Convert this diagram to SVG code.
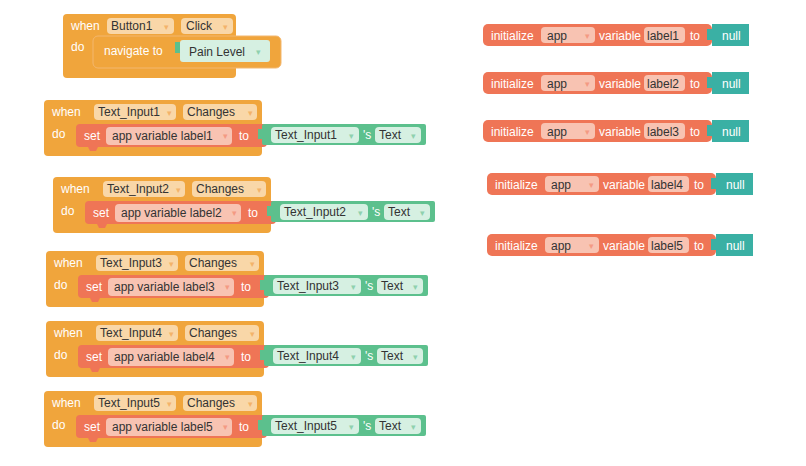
<svg xmlns="http://www.w3.org/2000/svg" width="806" height="466" viewBox="0 0 806 466">
<defs><style>
text{font-family:"Liberation Sans",Arial,sans-serif;font-size:12px}
.or{fill:#F0A53C}.sa{fill:#EF7556}.gr{fill:#5CC08D}.te{fill:#3AB0A4}
.w{fill:#fff}.d{fill:#333}
.fo{fill:#F9D7A8}.fs{fill:#F8C3B2}.fg{fill:#D6F0E2}
.ao{fill:#F3B36A;font-size:9px}.as{fill:#F49A83;font-size:9px}.ag{fill:#8FD1AE;font-size:9px}
</style>
<g id="ev">
<rect class="or" x="0" y="0" width="218" height="56" rx="4"/>
<text class="w" x="8" y="16">when</text>
<text class="w" x="8" y="38">do</text>
<rect class="sa" x="32" y="24" width="191" height="23" rx="4"/>
<path class="sa" d="M44 47h10l-2 4h-6z"/>
<text class="w" x="40" y="40">set</text>
<rect class="fs" x="62" y="27" width="126" height="18" rx="4"/>
<text class="as" x="179" y="39">▾</text>
<text class="w" x="195" y="40">to</text>
<rect class="gr" x="218" y="24" width="164" height="21" rx="2"/>
<path class="gr" d="M218 29h-4v10h4z"/>
<rect class="fg" x="227" y="27" width="88" height="16" rx="4"/>
<text class="ag" x="305" y="39">▾</text>
<text class="w" x="319" y="39">'s</text>
<rect class="fg" x="331" y="27" width="46" height="16" rx="4"/>
<text class="ag" x="367" y="39">▾</text>
<rect class="fo" x="50" y="4" width="82" height="16" rx="4"/>
<text class="ao" x="123" y="16">▾</text>
<rect class="fo" x="139" y="4" width="74" height="16" rx="4"/>
<text class="ao" x="204" y="16">▾</text>
</g>
<g id="init">
<rect class="sa" x="0" y="0" width="229" height="22" rx="5"/>
<text class="w" x="8" y="15.5">initialize</text>
<rect class="fs" x="58" y="3" width="54" height="16" rx="4"/>
<text class="d" x="64" y="15.5">app</text>
<text class="as" x="102" y="15">▾</text>
<text class="w" x="116" y="15.5">variable</text>
<rect class="fs" x="161" y="3" width="41" height="16" rx="4"/>
<text class="w" x="207" y="15.5">to</text>
<rect class="te" x="229" y="0" width="37" height="22"/>
<path class="te" d="M229 5h-5v11h5z"/>
<text class="w" x="239" y="15.5">null</text>
</g>
</defs>
<rect width="806" height="466" fill="#fff"/>

<g id="button1">
<rect class="or" x="63" y="14" width="173" height="64" rx="4"/>
<text class="w" x="71" y="30">when</text>
<text class="w" x="71" y="51">do</text>
<rect class="fo" x="107" y="18" width="67" height="16" rx="4"/>
<text class="d" x="111" y="30">Button1</text>
<text class="ao" x="164" y="30">▾</text>
<rect class="fo" x="181" y="18" width="52" height="16" rx="4"/>
<text class="d" x="186" y="30">Click</text>
<text class="ao" x="223" y="30">▾</text>
<rect class="or" x="93" y="36" width="188" height="32" rx="5" stroke="#F3B76E" stroke-width="1"/>
<text class="w" x="104" y="55">navigate to</text>
<path fill="#5CC08D" d="M180 42h-5v11h5z"/>
<rect class="fg" x="180" y="40" width="90" height="22" rx="3"/>
<text class="d" x="189" y="56">Pain Level</text>
<text class="ag" x="256" y="55">▾</text>
</g>

<g id="ti1"><use href="#ev" x="44" y="100"/>
<text class="d" x="98" y="116">Text_Input1</text><text class="d" x="187" y="116">Changes</text>
<text class="d" x="112" y="140">app variable label1</text><text class="d" x="275" y="139">Text_Input1</text><text class="d" x="379" y="139">Text</text></g>
<g id="ti2"><use href="#ev" x="53" y="177"/>
<text class="d" x="107" y="193">Text_Input2</text><text class="d" x="196" y="193">Changes</text>
<text class="d" x="121" y="217">app variable label2</text><text class="d" x="284" y="216">Text_Input2</text><text class="d" x="388" y="216">Text</text></g>
<g id="ti3"><use href="#ev" x="46" y="251"/>
<text class="d" x="100" y="267">Text_Input3</text><text class="d" x="189" y="267">Changes</text>
<text class="d" x="114" y="291">app variable label3</text><text class="d" x="277" y="290">Text_Input3</text><text class="d" x="381" y="290">Text</text></g>
<g id="ti4"><use href="#ev" x="46" y="321"/>
<text class="d" x="100" y="337">Text_Input4</text><text class="d" x="189" y="337">Changes</text>
<text class="d" x="114" y="361">app variable label4</text><text class="d" x="277" y="360">Text_Input4</text><text class="d" x="381" y="360">Text</text></g>
<g id="ti5"><use href="#ev" x="44" y="391"/>
<text class="d" x="98" y="407">Text_Input5</text><text class="d" x="187" y="407">Changes</text>
<text class="d" x="112" y="431">app variable label5</text><text class="d" x="275" y="430">Text_Input5</text><text class="d" x="379" y="430">Text</text></g>

<g id="init1"><use href="#init" x="483" y="24"/><text class="d" x="647" y="39.5">label1</text></g>
<g id="init2"><use href="#init" x="483" y="72"/><text class="d" x="647" y="87.5">label2</text></g>
<g id="init3"><use href="#init" x="483" y="120"/><text class="d" x="647" y="135.5">label3</text></g>
<g id="init4"><use href="#init" x="487" y="173"/><text class="d" x="651" y="188.5">label4</text></g>
<g id="init5"><use href="#init" x="487" y="234"/><text class="d" x="651" y="249.5">label5</text></g>
<g id="connectors"/>
</svg>
